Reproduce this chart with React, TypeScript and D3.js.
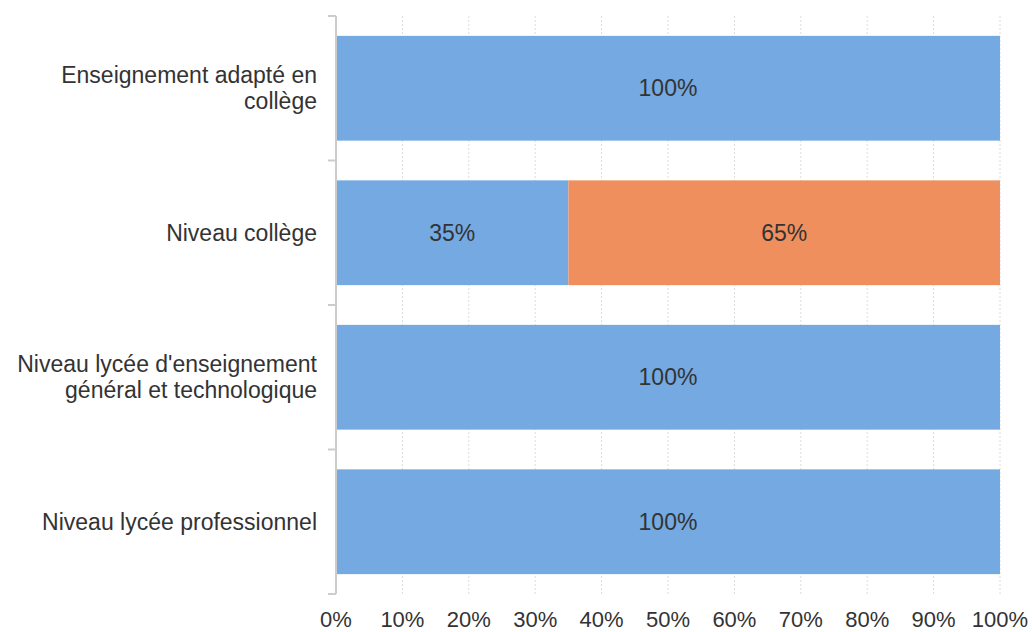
import * as d3 from "d3";
import { useEffect, useRef } from "react";

const categories = [
  ["Enseignement adapté en", "collège"],
  ["Niveau collège"],
  ["Niveau lycée d'enseignement", "général et technologique"],
  ["Niveau lycée professionnel"],
];
const seriesA = [100, 35, 100, 100];
const seriesB = [0, 65, 0, 0];
const xTicks = [0, 10, 20, 30, 40, 50, 60, 70, 80, 90, 100];

const W = 1032;
const H = 632;

export default function App() {
  const svgRef = useRef<SVGSVGElement>(null);

  useEffect(() => {
    if (!svgRef.current) return;
    const svg = d3.select(svgRef.current);
    svg.selectAll("*").remove();

    const left = 336;
    const right = 1000;
    const top = 16;
    const bottom = 594;
    const font = "'Liberation Sans', Arial, sans-serif";

    const x = d3.scaleLinear().domain([0, 100]).range([left, right]);
    const y = d3
      .scaleBand<number>()
      .domain(d3.range(categories.length))
      .range([top, bottom])
      .paddingInner(0.275)
      .paddingOuter(0.1375);

    // Gridlines
    svg
      .append("g")
      .selectAll("line")
      .data(xTicks.slice(1))
      .enter()
      .append("line")
      .attr("x1", (d) => x(d))
      .attr("x2", (d) => x(d))
      .attr("y1", top)
      .attr("y2", bottom)
      .attr("stroke", "#dcdcdc")
      .attr("stroke-width", 1)
      .attr("stroke-dasharray", "2,2");

    // Bars
    const stackData = categories.map((_c, i) => ({ i, a: seriesA[i], b: seriesB[i] }));
    const stacked = d3.stack<{ i: number; a: number; b: number }>().keys(["a", "b"])(stackData);
    const colors = ["#74a9e1", "#f08f5e"];

    stacked.forEach((layer, li) => {
      const g = svg.append("g");
      layer.forEach((seg) => {
        const w = x(seg[1]) - x(seg[0]);
        if (w <= 0) return;
        const yi = y(seg.data.i)!;
        g.append("rect")
          .attr("x", x(seg[0]))
          .attr("y", yi)
          .attr("width", w)
          .attr("height", y.bandwidth())
          .attr("fill", colors[li]);
        g.append("text")
          .attr("x", (x(seg[0]) + x(seg[1])) / 2)
          .attr("y", yi + y.bandwidth() / 2)
          .attr("dy", "0.35em")
          .attr("text-anchor", "middle")
          .attr("font-family", font)
          .attr("font-size", 23)
          .attr("fill", "#333")
          .text(`${seg[1] - seg[0]}%`);
      });
    });

    // Y axis line and ticks
    svg
      .append("line")
      .attr("x1", left)
      .attr("x2", left)
      .attr("y1", top)
      .attr("y2", bottom)
      .attr("stroke", "#cccccc")
      .attr("stroke-width", 2);
    const tickYs = d3.range(categories.length + 1).map((k) => top + ((bottom - top) * k) / categories.length);
    svg
      .append("g")
      .selectAll("line")
      .data(tickYs)
      .enter()
      .append("line")
      .attr("x1", left - 8)
      .attr("x2", left)
      .attr("y1", (d) => d)
      .attr("y2", (d) => d)
      .attr("stroke", "#cccccc")
      .attr("stroke-width", 2);

    // Category labels
    categories.forEach((lines, i) => {
      const cy = y(i)! + y.bandwidth() / 2;
      const lh = 26;
      const t = svg
        .append("text")
        .attr("text-anchor", "end")
        .attr("font-family", font)
        .attr("font-size", 23)
        .attr("fill", "#333");
      lines.forEach((ln, k) => {
        t.append("tspan")
          .attr("x", 317)
          .attr("y", cy + (k - (lines.length - 1) / 2) * lh)
          .attr("dy", "0.35em")
          .text(ln);
      });
    });

    // X tick labels
    svg
      .append("g")
      .selectAll("text")
      .data(xTicks)
      .enter()
      .append("text")
      .attr("x", (d) => x(d))
      .attr("y", 619)
      .attr("dy", "0.35em")
      .attr("text-anchor", "middle")
      .attr("font-family", font)
      .attr("font-size", 22)
      .attr("fill", "#333")
      .text((d) => `${d}%`);
  }, []);

  return (
    <svg
      ref={svgRef}
      width={W}
      height={H}
      style={{ position: "absolute", left: 0, top: 0, background: "#fff" }}
    />
  );
}
